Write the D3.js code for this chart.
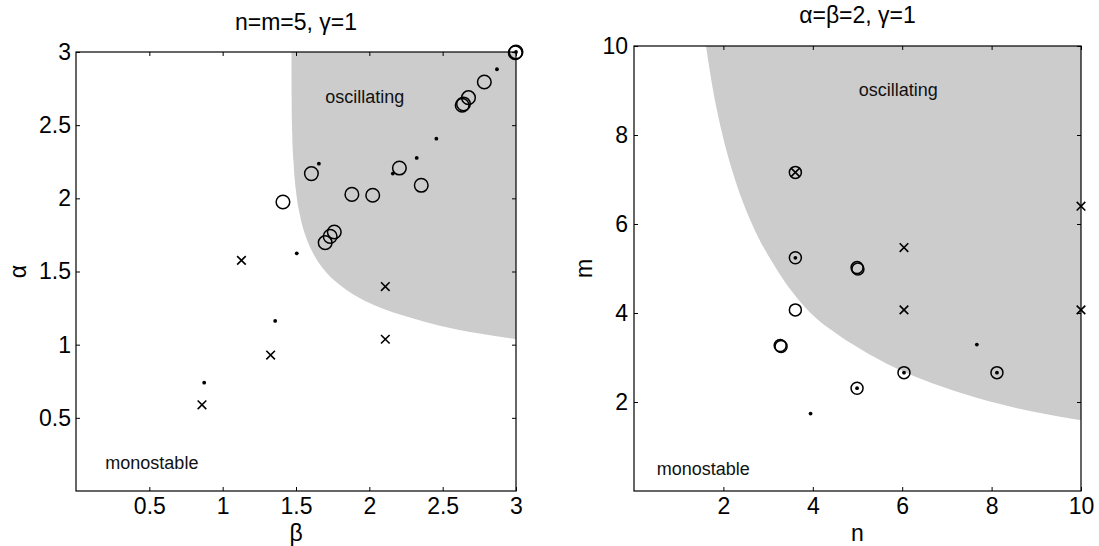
<!DOCTYPE html>
<html>
<head>
<meta charset="utf-8">
<script src="https://cdn.jsdelivr.net/npm/d3@7"></script>
<style>
  body { margin: 0; background: #fff; }
  svg { font-family: "Liberation Sans", Arial, Helvetica, sans-serif; }
</style>
</head>
<body>
<div id="chart"></div>
<script>
// left panel: n=m=5, gamma=1 (beta on x, alpha on y)
const leftTicks = [0.5, 1, 1.5, 2, 2.5, 3];
const leftCircles = [[3, 3], [2.995, 2.995], [2.784, 2.795], [2.676, 2.688], [2.633, 2.636], [2.642, 2.645],
    [2.205, 2.207], [2.354, 2.089], [2.023, 2.021], [1.881, 2.027], [1.605, 2.169], [1.411, 1.975],
    [1.761, 1.770], [1.733, 1.740], [1.699, 1.697]];
const leftDots = [[3, 3], [2.870, 2.882], [2.457, 2.408], [2.323, 2.276], [1.656, 2.237], [2.16, 2.169],
    [1.505, 1.624], [1.358, 1.162], [0.874, 0.740]];
const leftCrosses = [[1.128, 1.576], [2.109, 1.397], [2.109, 1.037], [1.327, 0.929], [0.859, 0.589]];
const leftBoundary = [[1.469, 3.0], [1.470, 2.7], [1.474, 2.45], [1.483, 2.25], [1.50, 2.05], [1.53, 1.87],
    [1.57, 1.73], [1.63, 1.60], [1.71, 1.49], [1.81, 1.40], [1.93, 1.32], [2.08, 1.25], [2.26, 1.19],
    [2.48, 1.13], [2.73, 1.08], [3.0, 1.037]];

// right panel: alpha=beta=2, gamma=1 (n on x, m on y)
const rightTicks = [2, 4, 6, 8, 10];
const rightCircles = [[3.61, 7.16], [3.61, 5.24], [4.99, 5.02], [5.01, 4.99], [3.61, 4.07], [3.27, 3.27],
    [3.29, 3.25], [6.04, 2.66], [8.12, 2.66], [4.99, 2.31]];
const rightDots = [[3.61, 5.24], [7.67, 3.29], [6.04, 2.66], [8.12, 2.66], [4.99, 2.31], [3.95, 1.74]];
const rightCrosses = [[3.61, 7.16], [10, 6.40], [6.04, 5.47], [6.04, 4.07], [10, 4.07]];
const rightBoundary = [[1.61, 10], [1.77, 9], [1.98, 8], [2.26, 7], [2.64, 6], [3.18, 5], [3.95, 4],
    [4.55, 3.52], [5.25, 3.08], [6.04, 2.68], [6.9, 2.34], [7.92, 2.02], [9.0, 1.77], [10, 1.59]];

const width = 1099, height = 546;

const svg = d3.select("#chart").append("svg")
    .attr("width", width)
    .attr("height", height);

function panel(opt) {
    const x = d3.scaleLinear().domain(opt.xDomain).range([opt.left, opt.right]);
    const y = d3.scaleLinear().domain(opt.yDomain).range([opt.bottom, opt.top]);
    const g = svg.append("g");

    // shaded oscillating region
    const line = d3.line().x(d => x(d[0])).y(d => y(d[1])).curve(d3.curveMonotoneX);
    const corner = [x(opt.xDomain[1]), y(opt.yDomain[1])];
    g.append("path")
        .attr("d", line(opt.boundary) + "L" + corner[0] + "," + corner[1] + "Z")
        .attr("fill", "#cccccc");

    // axes, ticks pointing inwards on all four sides
    const fmt = d => String(d);
    g.append("g").attr("transform", `translate(0,${opt.bottom})`)
        .call(d3.axisBottom(x).tickValues(opt.ticks).tickFormat(fmt).tickSizeInner(-4).tickSizeOuter(0).tickPadding(7));
    g.append("g").attr("transform", `translate(${opt.left},0)`)
        .call(d3.axisLeft(y).tickValues(opt.ticks).tickFormat(fmt).tickSizeInner(-4).tickSizeOuter(0).tickPadding(opt.yPad));
    g.append("g").attr("transform", `translate(0,${opt.top})`)
        .call(d3.axisTop(x).tickValues(opt.ticks).tickFormat("").tickSizeInner(-4).tickSizeOuter(0));
    g.append("g").attr("transform", `translate(${opt.right},0)`)
        .call(d3.axisRight(y).tickValues(opt.ticks).tickFormat("").tickSizeInner(-4).tickSizeOuter(0));
    g.selectAll(".domain").remove();
    g.selectAll(".tick line").attr("stroke", "#000");
    g.selectAll(".tick text").attr("font-size", 23).attr("fill", "#000").attr("font-family", null);

    g.append("rect")
        .attr("x", opt.left).attr("y", opt.top)
        .attr("width", opt.right - opt.left).attr("height", opt.bottom - opt.top)
        .attr("fill", "none").attr("stroke", "#000").attr("stroke-width", 1.2);

    // markers
    g.selectAll(".circ").data(opt.circles).enter().append("circle")
        .attr("cx", d => x(d[0])).attr("cy", d => y(d[1]))
        .attr("r", opt.r).attr("fill", "none").attr("stroke", "#000").attr("stroke-width", 1.5);
    g.selectAll(".dot").data(opt.dots).enter().append("circle")
        .attr("cx", d => x(d[0])).attr("cy", d => y(d[1]))
        .attr("r", 1.9).attr("fill", "#000");
    const s = 4.3;
    g.selectAll(".cross").data(opt.crosses).enter().append("path")
        .attr("d", d => {
            const cx = x(d[0]), cy = y(d[1]);
            return `M${cx - s},${cy - s}L${cx + s},${cy + s}M${cx - s},${cy + s}L${cx + s},${cy - s}`;
        })
        .attr("stroke", "#000").attr("stroke-width", 1.6);

    // texts
    g.append("text").attr("x", (opt.left + opt.right) / 2).attr("y", opt.titleY)
        .attr("text-anchor", "middle").attr("font-size", 23).text(opt.title);
    g.append("text").attr("x", (opt.left + opt.right) / 2).attr("y", 541)
        .attr("text-anchor", "middle").attr("font-size", 23).text(opt.xLabel);
    g.append("text")
        .attr("transform", `translate(${opt.yLabelX},${(opt.top + opt.bottom) / 2}) rotate(-90)`)
        .attr("text-anchor", "middle").attr("font-size", 23).text(opt.yLabel);
    g.append("text").attr("x", x(opt.osc[0])).attr("y", y(opt.osc[1]))
        .attr("font-size", 18).attr("fill", "#111").text("oscillating");
    g.append("text").attr("x", x(opt.mono[0])).attr("y", y(opt.mono[1]))
        .attr("font-size", 18).attr("fill", "#111").text("monostable");
}

panel({
    left: 76, right: 516, top: 52, bottom: 491,
    xDomain: [0, 3], yDomain: [0, 3], ticks: leftTicks, yPad: 5,
    boundary: leftBoundary, circles: leftCircles, dots: leftDots, crosses: leftCrosses, r: 6.8,
    title: "n=m=5, \u03b3=1", titleY: 30, xLabel: "\u03b2", yLabel: "\u03b1", yLabelX: 26,
    osc: [1.70, 2.65], mono: [0.20, 0.15]
});

panel({
    left: 634, right: 1081, top: 46, bottom: 491,
    xDomain: [0, 10], yDomain: [0, 10], ticks: rightTicks, yPad: 6,
    boundary: rightBoundary, circles: rightCircles, dots: rightDots, crosses: rightCrosses, r: 6,
    title: "\u03b1=\u03b2=2, \u03b3=1", titleY: 23, xLabel: "n", yLabel: "m", yLabelX: 592,
    osc: [5.03, 8.88], mono: [0.51, 0.35]
});
</script>
</body>
</html>
